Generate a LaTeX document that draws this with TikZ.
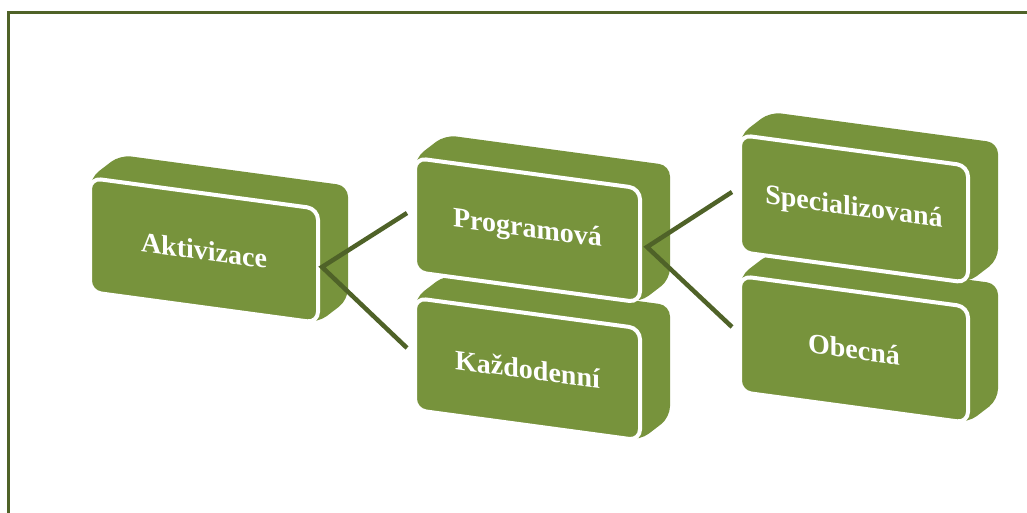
\documentclass[tikz,border=0pt]{standalone}
\usepackage{fontspec}
\setmainfont{Liberation Serif}
\definecolor{boxgreen}{HTML}{77933C}
\definecolor{darkolive}{HTML}{4F6228}
\tikzset{
  x=1pt, y=-1pt,
  blockback/.style={fill=boxgreen, draw=none, rounded corners=11pt},
  blockfront/.style={fill=boxgreen, draw=white, line width=4pt, rounded corners=11pt},
  lbl/.style={text=white, font=\fontsize{28}{32}\selectfont\bfseries, inner sep=0pt, yslant=-0.135},
  conn/.style={draw=darkolive, line width=4.5pt},
  frameline/.style={draw=darkolive, line width=3pt}
}
% name, x, y (front top-left), W, H, text
\newcommand\blockshape[6]{%
  \path[blockback] (#2,#3) -- ({#2+30},{#3-23}) -- ({#2+#4+30},{#3+0.135*#4-23})
     -- ({#2+#4+30},{#3+#5+0.135*#4-23}) -- ({#2+#4},{#3+#5+0.135*#4}) -- (#2,{#3+#5}) -- cycle;
  \path[blockfront] (#2,#3) -- ({#2+#4},{#3+0.135*#4}) -- ({#2+#4},{#3+#5+0.135*#4}) -- (#2,{#3+#5}) -- cycle;
  \node[lbl] (#1) at ({#2+#4/2},{#3+#5/2+0.135*#4/2}) {#6};
}
\begin{document}
\begin{tikzpicture}
\useasboundingbox (0,0) rectangle (1027,513);
\draw[frameline] (8,515) -- (8,13) -- (1029,13);

\blockshape{akt}{90}{178}{228}{114}{Aktivizace}
\blockshape{kaz}{415}{298}{225}{112}{Každodenní}
\blockshape{prog}{415}{158}{225}{114}{Programová}
\blockshape{obec}{740}{276}{228}{116}{Obecná}
\blockshape{spec}{740}{135}{228}{117}{Specializovaná}

\coordinate (v1) at (322,267);
\coordinate (e1) at (407,213);
\coordinate (e2) at (407,348);
\coordinate (v2) at (647,247);
\coordinate (e3) at (732,192);
\coordinate (e4) at (732,327);
\draw[conn] (e1) -- (v1) -- (e2);
\draw[conn] (e3) -- (v2) -- (e4);
\end{tikzpicture}
\end{document}
